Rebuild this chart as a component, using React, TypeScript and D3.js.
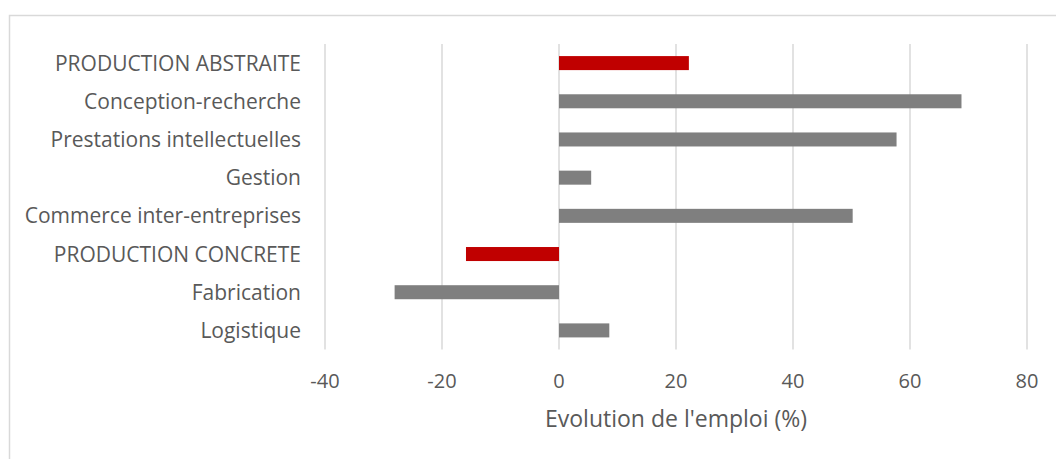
import React from 'react'
import * as d3 from 'd3'

const categories = [
  'PRODUCTION ABSTRAITE',
  'Conception-recherche',
  'Prestations intellectuelles',
  'Gestion',
  'Commerce inter-entreprises',
  'PRODUCTION CONCRETE',
  'Fabrication',
  'Logistique'
]
const values = [22.2, 68.8, 57.7, 5.5, 50.2, -15.9, -28.1, 8.6]
// red for the two aggregate rows
const highlight = [true, false, false, false, false, true, false, false]
const xTicks = [-40, -20, 0, 20, 40, 60, 80]
const axisTitle = "Evolution de l'emploi (%)"

const W = 1056
const H = 459
const font = '"Open Sans", sans-serif'
const textColor = '#595959'

const App = () => {
  const plot = { left: 325, right: 1027, top: 44, bottom: 349.5 }

  //D3 mathy bits
  const x = d3.scaleLinear().domain([-40, 80]).range([plot.left, plot.right])
  const y = d3
    .scaleBand()
    .domain(categories)
    .range([plot.top, plot.bottom])
    .paddingInner(0.633)
    .paddingOuter(0.3165)

  const grid = xTicks.map((t) => (
    <line
      key={'g' + t}
      x1={x(t)}
      x2={x(t)}
      y1={plot.top}
      y2={plot.bottom}
      stroke="#d9d9d9"
      strokeWidth={1.5}
    />
  ))

  const bars = categories.map((c, i) => {
    const v = values[i]
    return (
      <rect
        key={c}
        x={Math.min(x(0), x(v))}
        y={y(c)}
        width={Math.abs(x(v) - x(0))}
        height={y.bandwidth()}
        fill={highlight[i] ? '#c00000' : '#7f7f7f'}
      />
    )
  })

  const catLabels = categories.map((c) => (
    <text
      key={'l' + c}
      x={301}
      y={(y(c) ?? 0) + y.bandwidth() / 2 + 7.5}
      textAnchor="end"
      fontFamily={font}
      fontSize={21}
      fill={textColor}
    >
      {c}
    </text>
  ))

  const tickLabels = xTicks.map((t) => (
    <text
      key={'t' + t}
      x={x(t)}
      y={388}
      textAnchor="middle"
      fontFamily={font}
      fontSize={20}
      fill={textColor}
    >
      {t}
    </text>
  ))

  return (
    <svg
      width={W}
      height={H}
      style={{ position: 'absolute', left: 0, top: 0, background: '#fff' }}
    >
      <rect
        x={9.5}
        y={15.5}
        width={W + 20}
        height={H + 20}
        fill="#fff"
        stroke="#d9d9d9"
        strokeWidth={1.5}
      />
      {grid}
      {bars}
      {catLabels}
      {tickLabels}
      <text
        x={(plot.left + plot.right) / 2}
        y={427}
        textAnchor="middle"
        fontFamily={font}
        fontSize={23}
        fill={textColor}
      >
        {axisTitle}
      </text>
    </svg>
  )
}

export default App
